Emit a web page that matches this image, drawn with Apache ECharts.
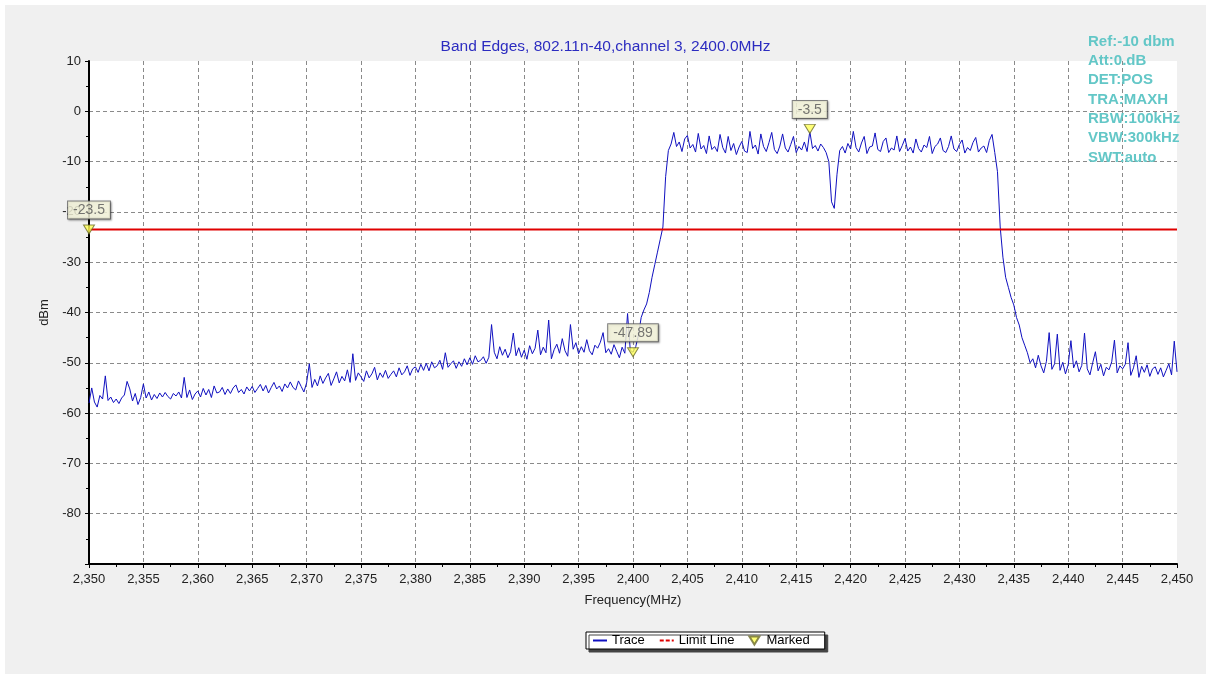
<!DOCTYPE html>
<html>
<head>
<meta charset="utf-8">
<title>Band Edges</title>
<script src="https://cdn.jsdelivr.net/npm/echarts@6/dist/echarts.min.js"></script>
<style>
  html, body { margin: 0; padding: 0; background: #fff; }
  #chart { width: 1211px; height: 679px; }
</style>
</head>
<body>
<div id="chart"></div>
<script>
// sweep 2350 - 2450 MHz, one reading every 0.25 MHz
var startFreq = 2350;
var stepFreq = 0.25;
var traceLevel = [
  -58.0, -55.0, -57.8, -58.8,  -56.5, -57.2, -52.6, -57.5,  -56.8, -57.9, -57.2, -58.1,
  -57.0, -56.4, -53.7, -55.2,  -57.6, -56.1, -58.3, -56.9,  -54.2, -57.0, -55.8, -57.4,
  -56.3, -57.1, -56.0, -56.8,  -55.9, -56.7, -57.2, -56.1,  -56.6, -55.8, -57.0, -52.9,
  -56.9, -55.4, -57.3, -56.2,
  // 2360
  -55.6, -56.8, -55.1, -56.4,  -55.3, -56.9, -54.6, -56.0,  -55.8, -54.9, -56.3, -55.2,
  -56.1, -55.0, -54.4, -55.9,  -55.3, -56.2, -54.8, -55.6,  -54.7, -55.9, -55.1, -54.3,
  -55.6, -54.5, -56.0, -54.9,  -53.9, -55.2, -54.6, -55.7,  -54.2, -55.0, -53.8, -54.9,
  -55.4, -53.6, -54.7, -55.8,
  // 2370
  -54.0, -50.2, -54.9, -53.3,  -54.6, -52.6, -54.1, -53.0,  -52.1, -54.5, -53.2, -51.8,
  -54.0, -52.7, -53.6, -51.4,  -53.9, -48.2, -53.5, -52.0,  -52.8, -53.7, -51.6, -53.0,
  -52.2, -50.9, -53.4, -52.0,  -52.9, -51.5, -53.1, -52.3,  -51.6, -52.8, -51.0, -52.4,
  -51.8, -50.6, -52.5, -51.2,
  // 2380
  -50.8, -51.9, -50.3, -51.5,  -50.1, -51.6, -49.8, -51.0,  -50.6, -49.5, -51.3, -48.0,
  -50.9, -50.2, -49.6, -51.1,  -49.8, -50.7, -49.2, -50.4,  -49.0, -50.3, -48.6, -49.8,
  -49.5, -48.8, -50.1, -48.9,  -42.4, -47.9, -49.2, -46.8,  -48.5, -47.3, -49.0, -47.8,
  -44.1, -48.6, -47.0, -48.9,
  // 2390
  -47.5, -49.3, -46.6, -48.2,  -47.1, -43.5, -48.4, -46.9,  -48.0, -41.5, -49.2, -47.4,
  -46.3, -48.1, -45.2, -47.6,  -48.7, -42.4, -47.3, -46.0,  -48.2, -46.8, -47.9, -45.4,
  -47.6, -48.4, -46.5, -47.1,  -45.9, -44.0, -48.0, -47.2,  -48.3, -46.4, -47.7, -49.0,
  -46.9, -48.1, -40.2, -47.5,
  // 2400 - channel edge
  -47.9, -46.8, -44.5, -41.0,  -39.5, -38.3, -36.0, -33.0,  -30.5, -28.0, -25.5, -23.0,
  -13.0, -7.8, -6.5, -4.2,     -7.0, -6.1, -8.0, -5.5,     -4.8, -7.3, -6.6, -8.1,
  -4.4, -7.5, -6.8, -8.4,      -4.9, -7.6, -7.0, -8.0,     -4.6, -7.2, -8.3, -5.0,
  -7.8, -6.4, -8.6, -7.1,
  // 2410
  -6.0, -7.9, -8.2, -4.0,      -7.4, -6.7, -8.5, -4.5,     -7.0, -8.0, -6.2, -4.2,
  -7.6, -8.4, -6.9, -4.5,      -7.3, -8.1, -6.6, -5.0,     -8.2, -7.0, -7.7, -6.1,
  -8.0, -4.0, -7.4, -6.8,      -7.9, -6.5, -7.2, -8.2,     -10.0, -18.0, -19.3, -12.5,
  -7.8, -7.0, -8.3, -6.4,
  // 2420
  -7.5, -4.0, -7.2, -8.1,      -6.3, -5.0, -8.4, -7.1,     -6.9, -4.3, -7.6, -8.0,
  -6.0, -5.3, -8.2, -7.3,      -7.7, -4.9, -8.0, -6.8,     -5.4, -7.9, -7.1, -8.3,
  -5.5, -7.4, -8.1, -6.7,      -7.2, -5.0, -8.4, -7.0,     -6.5, -5.3, -7.8, -8.2,
  -7.0, -4.9, -7.5, -8.0,
  // 2430
  -6.6, -5.7, -8.3, -7.2,      -7.8, -6.2, -5.2, -8.1,     -7.3, -6.9, -8.2, -5.8,
  -4.6, -8.2, -12.0, -23.0,    -29.0, -33.0, -35.0, -37.0, -38.5, -41.0, -42.5, -45.0,
  -46.5, -48.0, -50.0, -49.2,  -51.0, -48.5, -50.6, -52.0, -49.7, -44.0, -51.3, -50.2,
  -44.3, -51.5, -49.9, -52.2,
  // 2440
  -50.4, -45.6, -51.0, -49.6,  -51.8, -50.5, -44.1, -51.2, -52.4, -50.0, -47.8, -51.6,
  -50.3, -52.6, -50.9, -51.4,  -49.8, -45.5, -52.0, -50.6, -51.2, -50.3, -46.0, -52.5,
  -51.0, -48.6, -52.9, -50.7,  -51.9, -50.4, -52.7, -51.2, -50.8, -52.3, -51.0, -52.8,
  -51.5, -50.2, -52.4, -45.7,
  -51.8
];

// limit line
var limitFreq = [2350, 2450];
var limitLevel = [-23.5, -23.5];

// markers
var markerFreq = [2350, 2416.25, 2400];
var markerLevel = [-23.5, -3.5, -47.89];

// analyser settings box
var infoLines = ['Ref:-10 dbm', 'Att:0.dB', 'DET:POS', 'TRA:MAXH', 'RBW:100kHz', 'VBW:300kHz', 'SWT:auto'];

var FONT = '"Liberation Sans", Arial, sans-serif';

var traceData = traceLevel.map(function (v, i) {
  return [startFreq + i * stepFreq, v];
});
var limitData = limitFreq.map(function (f, i) { return [f, limitLevel[i]]; });
var markerData = markerFreq.map(function (f, i) { return [f, markerLevel[i]]; });

var chart = echarts.init(document.getElementById('chart'));

chart.setOption({
  animation: false,
  backgroundColor: '#fff',
  textStyle: { fontFamily: FONT },
  title: {
    text: 'Band Edges, 802.11n-40,channel 3, 2400.0MHz',
    left: 'center',
    top: 34,
    textStyle: { color: '#2c2cc0', fontSize: 15.5, fontWeight: 'normal', fontFamily: FONT }
  },
  graphic: [
    {
      type: 'rect', z: -10, silent: true,
      shape: { x: 5, y: 5, width: 1201, height: 669 },
      style: { fill: '#f0f0f0' }
    },
    {
      type: 'text', z: 100, silent: true,
      left: 1088, top: 32,
      style: {
        text: infoLines.join('\n'),
        fill: '#63c7c7',
        font: 'bold 15px ' + FONT,
        lineHeight: 19.3
      }
    }
  ],
  grid: {
    left: 89, right: 34, top: 61, bottom: 115,
    show: true, backgroundColor: '#fff', borderWidth: 0
  },
  legend: {
    left: 586, top: 632,
    backgroundColor: '#fff',
    borderColor: '#000', borderWidth: 1,
    shadowColor: '#444', shadowBlur: 0, shadowOffsetX: 3, shadowOffsetY: 3,
    padding: [2, 15, 2, 6],
    itemGap: 14, itemWidth: 14, itemHeight: 8,
    textStyle: { color: '#000', fontSize: 13, fontFamily: FONT },
    data: [
      { name: 'Trace', itemStyle: { opacity: 0 } },
      { name: 'Limit Line', itemStyle: { opacity: 0 }, lineStyle: { type: [4, 2] } },
      { name: 'Marked' }
    ]
  },
  xAxis: {
    type: 'value',
    min: 2350, max: 2450, interval: 5,
    name: 'Frequency(MHz)',
    nameLocation: 'middle', nameGap: 30,
    nameTextStyle: { color: '#222', fontSize: 13 },
    axisLine: { onZero: false, lineStyle: { color: '#000', width: 2 } },
    axisTick: { length: 4, lineStyle: { color: '#000' } },
    minorTick: { show: true, splitNumber: 2, length: 3, lineStyle: { color: '#000' } },
    axisLabel: {
      color: '#222', fontSize: 13, margin: 9,
      formatter: function (v) { return v.toLocaleString('en-US'); }
    },
    splitLine: {
      show: true, showMinLine: false, showMaxLine: false,
      lineStyle: { color: '#8a8a8a', type: [4, 3], width: 1 }
    }
  },
  yAxis: {
    type: 'value',
    min: -90, max: 10, interval: 10,
    name: 'dBm',
    nameLocation: 'middle', nameGap: 31,
    nameTextStyle: { color: '#222', fontSize: 13 },
    axisLine: { show: true, onZero: false, lineStyle: { color: '#000', width: 2 } },
    axisTick: { show: true, length: 4, lineStyle: { color: '#000' } },
    minorTick: { show: true, splitNumber: 2, length: 3, lineStyle: { color: '#000' } },
    axisLabel: { color: '#222', fontSize: 13, margin: 8, showMinLabel: false },
    splitLine: {
      show: true, showMinLine: false, showMaxLine: false,
      lineStyle: { color: '#8a8a8a', type: [4, 3], width: 1 }
    }
  },
  series: [
    {
      name: 'Trace',
      type: 'line',
      data: traceData,
      symbol: 'none',
      color: '#1010c0',
      lineStyle: { color: '#1010c0', width: 1 },
      z: 3
    },
    {
      name: 'Limit Line',
      type: 'line',
      data: limitData,
      symbol: 'none',
      color: '#e00000',
      lineStyle: { color: '#e00000', width: 2 },
      z: 4
    },
    {
      name: 'Marked',
      type: 'scatter',
      data: markerData,
      clip: false,
      symbol: 'path://M0,0 L10,0 L5,8 Z',
      symbolSize: [11, 9],
      itemStyle: { color: '#ffff55', borderColor: '#6b6b2a', borderWidth: 1 },
      label: {
        show: true,
        position: 'top',
        distance: 6,
        formatter: function (p) { return String(p.value[1]); },
        color: '#555',
        fontSize: 14,
        fontFamily: FONT,
        backgroundColor: '#ffffe4',
        borderColor: '#666',
        borderWidth: 1,
        padding: [2, 5, 1, 5],
        shadowColor: 'rgba(0,0,0,0.35)',
        shadowBlur: 2,
        shadowOffsetX: 1,
        shadowOffsetY: 1
      },
      z: 10
    }
  ]
});
</script>
</body>
</html>
